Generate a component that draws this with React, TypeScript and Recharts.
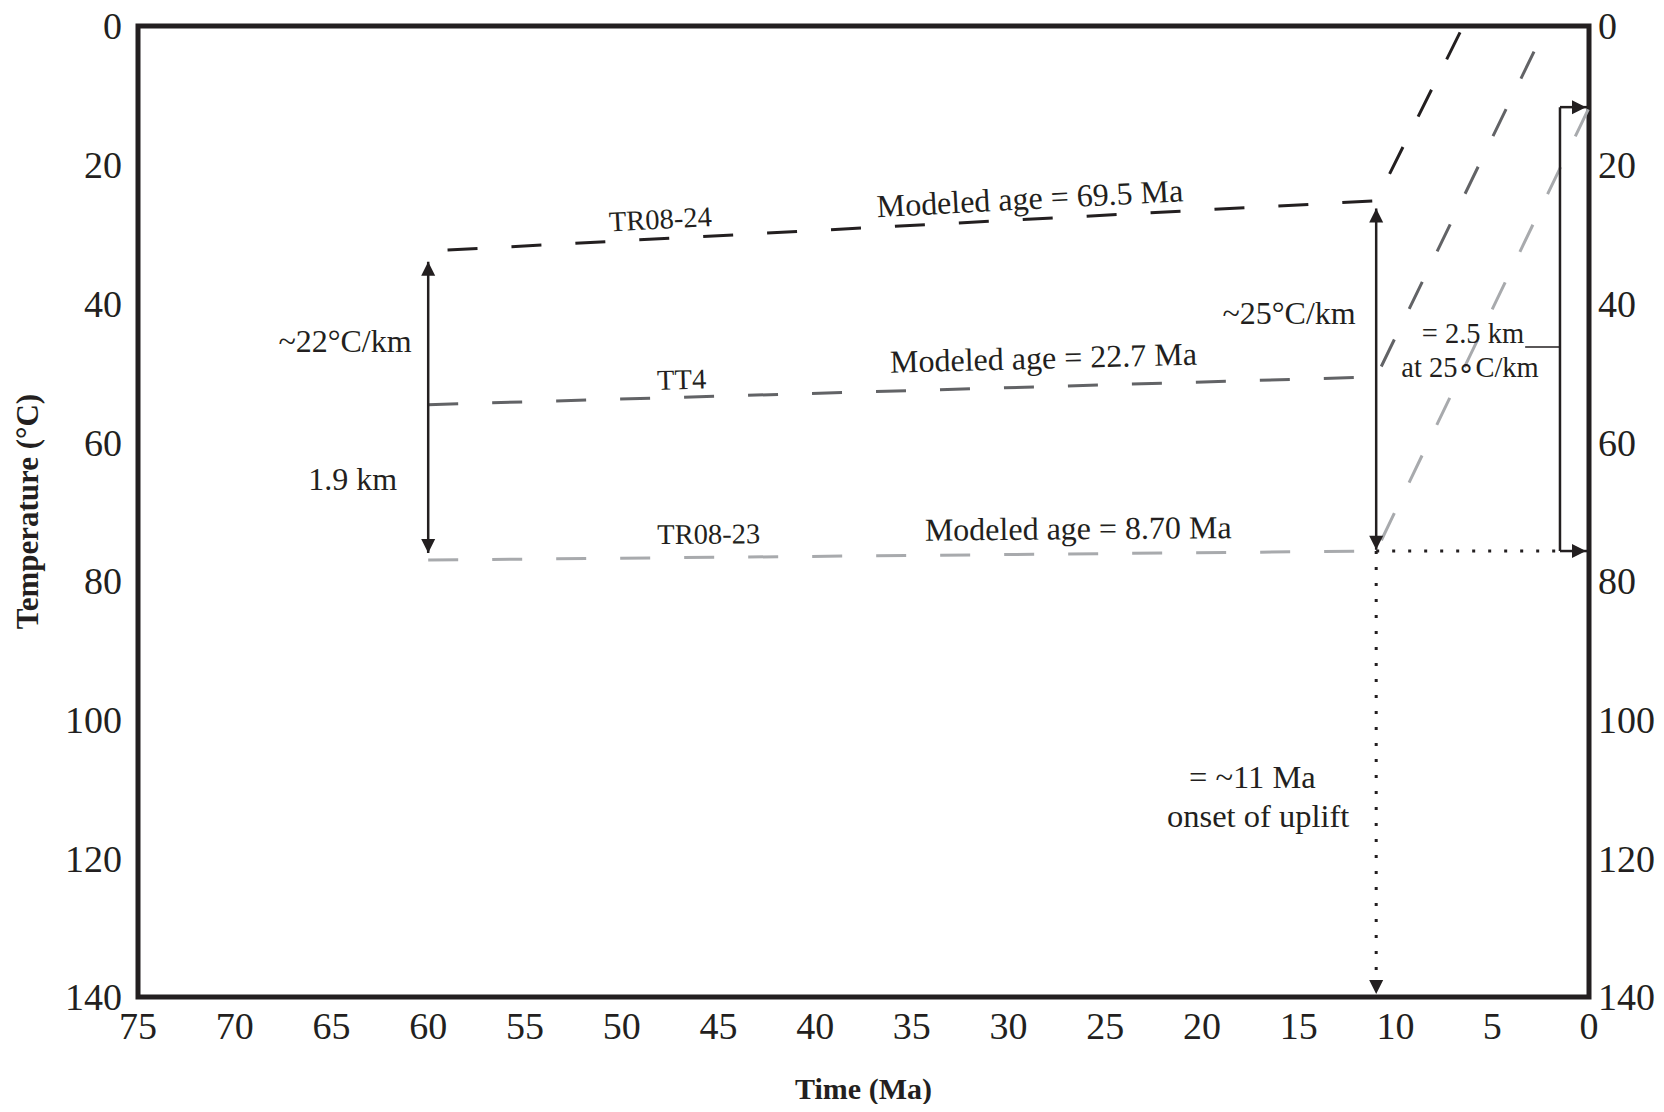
import React from 'react';
import { LineChart, Line, XAxis, YAxis, ReferenceLine, ReferenceDot, ReferenceArea, Label } from 'recharts';

const ink = '#231f20';
const serif = '"Liberation Serif", "Times New Roman", serif';

const timeTicks = [75, 70, 65, 60, 55, 50, 45, 40, 35, 30, 25, 20, 15, 10, 5, 0];
const tempTicks = [0, 20, 40, 60, 80, 100, 120, 140];

// modeled time–temperature paths (Ma, °C)
const tr0824 = [{ time: 59, temp: 32.3 }, { time: 11, temp: 25.2 }, { time: 6.5, temp: 0 }];
const tt4 = [{ time: 60, temp: 54.6 }, { time: 11, temp: 50.6 }, { time: 2.2, temp: 0 }];
const tr0823 = [{ time: 60, temp: 77 }, { time: 11, temp: 75.7 }, { time: 0, temp: 11.8 }];

// arrows and guide lines
const shafts = [
  { a: { x: 60, y: 34 }, b: { x: 60, y: 76 }, kind: 'solid' },
  { a: { x: 11, y: 26.3 }, b: { x: 11, y: 75.5 }, kind: 'solid' },
  { a: { x: 11, y: 75.7 }, b: { x: 11, y: 140 }, kind: 'dotted' },
  { a: { x: 11, y: 75.7 }, b: { x: 1.5, y: 75.7 }, kind: 'dotted' },
  { a: { x: 1.5, y: 75.7 }, b: { x: 0, y: 75.7 }, kind: 'solid' },
  { a: { x: 1.5, y: 11.7 }, b: { x: 0, y: 11.7 }, kind: 'solid' },
  { a: { x: 1.5, y: 11.7 }, b: { x: 1.5, y: 75.7 }, kind: 'solid' },
  { a: { x: 3.3, y: 46.3 }, b: { x: 1.5, y: 46.3 }, kind: 'thin' },
];

const heads = [
  { x: 60, y: 34, dir: 'up' },
  { x: 60, y: 76, dir: 'down' },
  { x: 11, y: 26.3, dir: 'up' },
  { x: 11, y: 75.5, dir: 'down' },
  { x: 11, y: 140, dir: 'down' },
  { x: 0, y: 75.7, dir: 'right' },
  { x: 0, y: 11.7, dir: 'right' },
];

const notes = [
  { text: 'TR08-24', x: 48.0, y: 27.8, size: 28.5, angle: -3 },
  { text: 'Modeled age = 69.5 Ma', x: 28.9, y: 24.8, size: 32, angle: -3 },
  { text: 'TT4', x: 46.9, y: 50.9, size: 28.5, angle: -1.5 },
  { text: 'Modeled age = 22.7 Ma', x: 28.2, y: 47.8, size: 32, angle: -1.5 },
  { text: 'TR08-23', x: 45.5, y: 73.2, size: 28.5, angle: -0.5 },
  { text: 'Modeled age = 8.70 Ma', x: 26.4, y: 72.4, size: 32, angle: -0.5 },
  { text: '~22°C/km', x: 64.3, y: 45.4, size: 32, angle: 0 },
  { text: '1.9 km', x: 63.9, y: 65.3, size: 32, angle: 0 },
  { text: '~25°C/km', x: 15.5, y: 41.3, size: 32, angle: 0 },
  { text: '= 2.5 km', x: 6.0, y: 44.2, size: 28.5, angle: 0 },
  { text: 'at 25∘C/km', x: 6.15, y: 49.1, size: 28.5, angle: 0 },
  { text: '= ~11 Ma', x: 17.4, y: 108.2, size: 32.5, angle: 0 },
  { text: 'onset of uplift', x: 17.1, y: 113.9, size: 32.5, angle: 0 },
];

const Head = ({ cx, cy, dir }: any) => {
  const L = 14, W = 7;
  let pts = '';
  if (dir === 'up') pts = `${cx},${cy} ${cx - W},${cy + L} ${cx + W},${cy + L}`;
  if (dir === 'down') {
    const t = cy - (cy > 900 ? 3 : 0);
    pts = `${cx},${t} ${cx - W},${t - L} ${cx + W},${t - L}`;
  }
  if (dir === 'right') {
    const t = cx - 3;
    pts = `${t},${cy} ${t - L},${cy - W} ${t - L},${cy + W}`;
  }
  return <polygon points={pts} fill={ink} />;
};

const tickStyle = { fontSize: 38, fill: ink, fontFamily: serif };

export default function App() {
  return (
    <div style={{ margin: '-8px 0 0 -8px', width: 1664, height: 1104 }}>
      <LineChart width={1664} height={1104} margin={{ top: 26, right: 0, bottom: 0, left: 0 }}>
        <XAxis
          dataKey="time"
          type="number"
          domain={[0, 75]}
          reversed
          ticks={timeTicks}
          interval={0}
          axisLine={false}
          tickLine={false}
          tickMargin={9}
          height={107}
          tick={tickStyle}
        >
          <Label
            content={(p: any) => {
              const vb = p.viewBox;
              return (
                <text x={vb.x + vb.width / 2} y={vb.y + vb.height - 5} textAnchor="middle" fontSize={30} fontWeight="bold" fontFamily={serif} fill={ink}>
                  Time (Ma)
                </text>
              );
            }}
          />
        </XAxis>
        <YAxis
          yAxisId="left"
          type="number"
          domain={[0, 140]}
          reversed
          ticks={tempTicks}
          interval={0}
          axisLine={false}
          tickLine={false}
          tickMargin={10}
          width={138}
          tick={tickStyle}
        >
          <Label
            content={(p: any) => {
              const vb = p.viewBox;
              const cx = vb.x + 27;
              const cy = vb.y + vb.height / 2;
              return (
                <text x={cx} y={cy} dy="0.35em" textAnchor="middle" transform={`rotate(-90 ${cx} ${cy})`} fontSize={31} fontWeight="bold" fontFamily={serif} fill={ink}>
                  Temperature (°C)
                </text>
              );
            }}
          />
        </YAxis>
        <YAxis
          yAxisId="right"
          orientation="right"
          type="number"
          domain={[0, 140]}
          reversed
          ticks={tempTicks}
          interval={0}
          axisLine={false}
          tickLine={false}
          tickMargin={3}
          width={75}
          tick={tickStyle}
        />
        <ReferenceArea yAxisId="left" x1={75} x2={0} y1={0} y2={140} fill="none" fillOpacity={0} stroke={ink} strokeWidth={5} />
        <Line yAxisId="left" data={tr0824} dataKey="temp" type="linear" stroke={ink} strokeWidth={3} strokeDasharray="30 34" dot={false} isAnimationActive={false} />
        <Line yAxisId="left" data={tt4} dataKey="temp" type="linear" stroke="#626366" strokeWidth={3} strokeDasharray="30 34" dot={false} isAnimationActive={false} />
        <Line yAxisId="right" data={tr0823} dataKey="temp" type="linear" stroke="#a8aaad" strokeWidth={3} strokeDasharray="30 34" dot={false} isAnimationActive={false} />
        {shafts.map((s, i) => (
          <ReferenceLine
            key={`s${i}`}
            yAxisId="left"
            segment={[s.a, s.b]}
            stroke={ink}
            strokeWidth={s.kind === 'thin' ? 1.5 : s.kind === 'dotted' ? 3 : 2.5}
            strokeDasharray={s.kind === 'dotted' ? '3 13' : undefined}
            ifOverflow="visible"
          />
        ))}
        {heads.map((h, i) => (
          <ReferenceDot key={`h${i}`} yAxisId="left" x={h.x} y={h.y} ifOverflow="visible" shape={(p: any) => <Head cx={p.cx} cy={p.cy} dir={h.dir} />} />
        ))}
        {notes.map((n, i) => (
          <ReferenceDot
            key={`n${i}`}
            yAxisId="left"
            x={n.x}
            y={n.y}
            ifOverflow="visible"
            shape={(p: any) => (
              <text
                x={p.cx}
                y={p.cy}
                dy="0.35em"
                textAnchor="middle"
                fontSize={n.size}
                fontFamily={serif}
                fill={ink}
                transform={`rotate(${n.angle} ${p.cx} ${p.cy})`}
              >
                {n.text}
              </text>
            )}
          />
        ))}
      </LineChart>
    </div>
  );
}
